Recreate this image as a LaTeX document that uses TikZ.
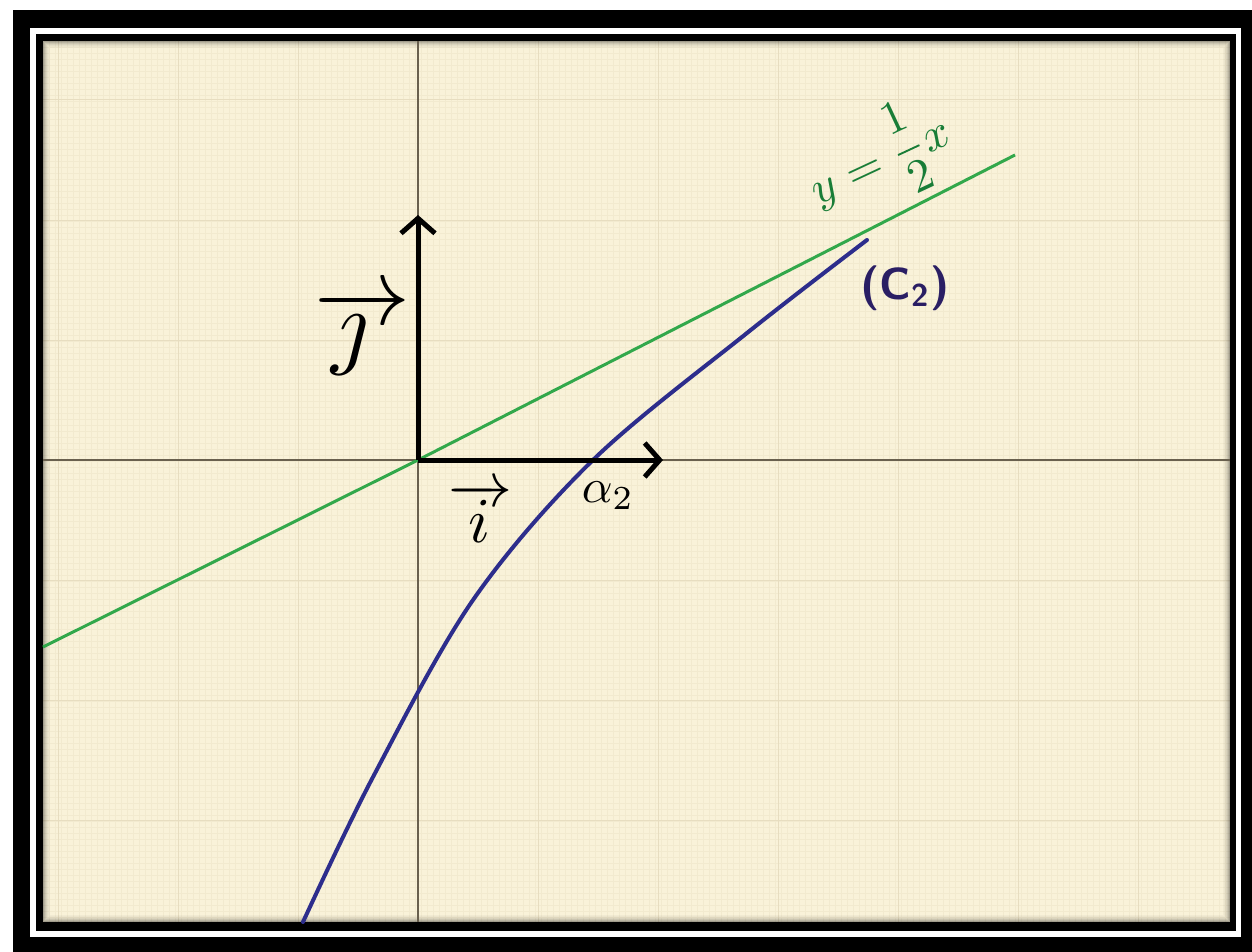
\documentclass[tikz,border=0pt]{standalone}
\usetikzlibrary{arrows.meta}
\definecolor{paper}{RGB}{249,242,217}
\definecolor{gridc}{RGB}{231,221,192}
\definecolor{finec}{RGB}{242,234,207}
\definecolor{axisc}{RGB}{105,96,78}
\definecolor{lineg}{RGB}{50,168,75}
\definecolor{textg}{RGB}{25,125,55}
\definecolor{curveb}{RGB}{45,45,140}
\definecolor{textb}{RGB}{42,30,100}
\begin{document}
\begin{tikzpicture}[x=1pt,y=-1pt,
  vecarrow/.style={line width=5pt,-{Straight Barb[length=15pt,width=34pt]}},
  axisline/.style={axisc,line width=1.3pt},
  gridline/.style={gridc,line width=1pt},
  fineline/.style={finec,line width=0.6pt},
  greenline/.style={lineg,line width=3pt},
  bluecurve/.style={curveb,line width=4pt,line cap=round},
  veclabel/.style={inner sep=0pt,transform shape},
]
\useasboundingbox (0,0) rectangle (1252,952);
% frame
\fill[white] (0,0) rectangle (1252,952);
\fill[black] (13,10) rectangle (1252,952);
\fill[white] (30,28) rectangle (1241,937);
\fill[black] (36,34) rectangle (1236,931);
\fill[paper] (43,41) rectangle (1230,922);
% fine texture
\foreach \gx in {49,55,...,1228} \draw[fineline] (\gx,41) -- (\gx,922);
\foreach \gy in {47,53,...,920} \draw[fineline] (43,\gy) -- (1230,\gy);
% grid
\foreach \gx in {58,178,298,538,658,778,898,1018,1138} \draw[gridline] (\gx,41) -- (\gx,922);
\foreach \gy in {100,220,340,580,700,820} \draw[gridline] (43,\gy) -- (1230,\gy);
% inner shadow
\foreach \k/\o in {0/0.35,1/0.25,2/0.18,3/0.12,4/0.08,5/0.05,6/0.03}
  \draw[black,opacity=\o,line width=1pt] (43.5+\k,41.5+\k) rectangle (1229.5-\k,921.5-\k);
% axes
\draw[axisline] (43,460) -- (1230,460);
\draw[axisline] (418,41) -- (418,922);
% points
\coordinate (O) at (418,460);
\coordinate (J) at (418,215);
\coordinate (I) at (663,460);
\coordinate (GA) at (43,647);
\coordinate (GB) at (1015,155);
% green line
\draw[greenline] (GA) -- (O) -- (GB);
% blue curve
\draw[bluecurve] plot[smooth,tension=0.55] coordinates
  {(303,922) (373,777) (473,600) (593,460) (747,333) (867,240)};
% vectors
\draw[vecarrow] (O) -- (J);
\draw[vecarrow] (O) -- (I);
% labels
\node[veclabel,scale=9.6] (jl) at (362,332) {$\overrightarrow{\jmath\hspace{0.25em}}$};
\node[veclabel,scale=6.4] (il) at (480,513) {$\overrightarrow{\hspace{0.2em}i\hspace{0.2em}}$};
\node[veclabel,scale=4.8] (al) at (608,496) {$\alpha_2$};
\node[veclabel,text=textg,rotate=25,scale=4.7] (eq) at (880,160) {$\displaystyle y=\frac{1}{2}x$};
\node[veclabel,text=textb,scale=4.5,font=\sffamily\bfseries] (cl) at (905,288) {(C\textsubscript{2})};
\end{tikzpicture}
\end{document}
